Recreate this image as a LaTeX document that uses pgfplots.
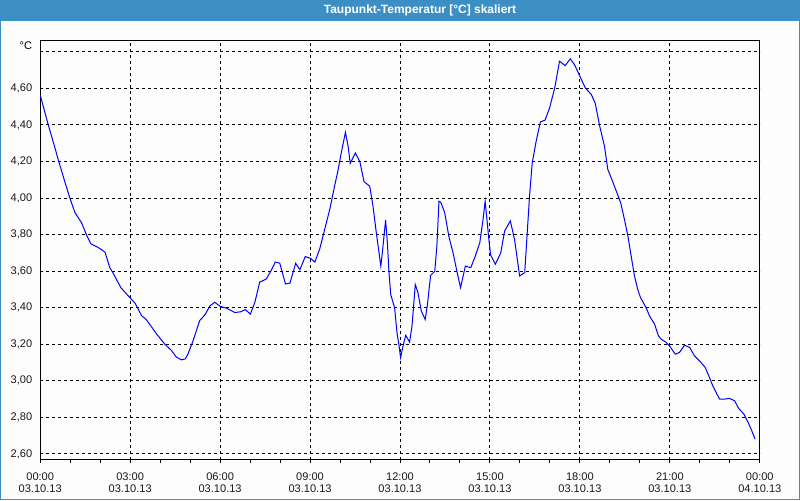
\documentclass[border=0pt]{standalone}
\usepackage{pgfplots}
\pgfplotsset{compat=1.18}
\usepackage{fontspec}
\setmainfont{Liberation Sans}
\definecolor{titleblue}{RGB}{60,143,196}
\definecolor{bg}{RGB}{252,253,252}
\pgfplotstableread{
h v
0.00 4.564
0.27 4.40
0.43 4.31
0.62 4.20
0.82 4.09
0.99 4.00
1.16 3.92
1.38 3.865
1.54 3.80
1.69 3.75
1.93 3.73
2.16 3.705
2.32 3.62
2.43 3.59
2.69 3.51
2.93 3.466
3.16 3.426
3.38 3.357
3.54 3.335
3.88 3.257
4.16 3.20
4.38 3.166
4.54 3.13
4.71 3.115
4.84 3.12
4.93 3.147
5.10 3.22
5.32 3.33
5.49 3.36
5.66 3.41
5.82 3.43
6.01 3.407
6.21 3.398
6.49 3.374
6.69 3.378
6.84 3.39
7.01 3.365
7.16 3.43
7.32 3.54
7.54 3.557
7.69 3.60
7.84 3.65
7.99 3.644
8.18 3.53
8.33 3.535
8.52 3.643
8.66 3.608
8.84 3.68
9.02 3.67
9.16 3.65
9.32 3.72
9.49 3.83
9.66 3.94
9.82 4.067
9.93 4.15
10.04 4.247
10.18 4.36
10.27 4.283
10.34 4.19
10.51 4.247
10.66 4.20
10.80 4.09
10.99 4.065
11.10 3.955
11.21 3.81
11.36 3.628
11.41 3.70
11.52 3.88
11.58 3.755
11.63 3.60
11.69 3.473
11.82 3.40
11.90 3.263
11.97 3.19
12.02 3.127
12.10 3.19
12.19 3.249
12.32 3.212
12.40 3.30
12.51 3.527
12.60 3.482
12.71 3.382
12.84 3.336
12.91 3.409
13.02 3.577
13.16 3.60
13.23 3.737
13.30 3.983
13.36 3.977
13.49 3.92
13.63 3.79
13.77 3.70
13.91 3.59
14.02 3.51
14.18 3.628
14.36 3.619
14.51 3.682
14.66 3.755
14.77 3.883
14.84 3.983
14.90 3.883
14.96 3.78
15.02 3.69
15.18 3.638
15.36 3.70
15.49 3.82
15.68 3.875
15.82 3.774
15.99 3.574
16.16 3.592
16.24 3.80
16.32 4.01
16.41 4.193
16.54 4.31
16.68 4.416
16.84 4.427
16.99 4.494
17.16 4.603
17.32 4.749
17.51 4.725
17.68 4.762
17.82 4.73
17.99 4.67
18.18 4.603
18.38 4.567
18.51 4.52
18.66 4.394
18.82 4.284
18.93 4.157
19.07 4.10
19.21 4.04
19.36 3.975
19.49 3.88
19.60 3.793
19.71 3.683
19.82 3.574
19.93 3.50
20.02 3.456
20.21 3.40
20.32 3.356
20.49 3.31
20.62 3.246
20.71 3.228
20.88 3.21
21.01 3.186
21.18 3.146
21.32 3.155
21.49 3.195
21.66 3.183
21.82 3.137
22.02 3.104
22.18 3.073
22.32 3.019
22.43 2.973
22.54 2.937
22.66 2.90
22.82 2.90
22.99 2.904
23.16 2.891
23.29 2.85
23.47 2.818
23.60 2.776
23.71 2.736
23.84 2.682
}\dewdata
\begin{document}
\begin{tikzpicture}[x=0.75pt,y=0.75pt]
\fill[bg] (0,0) rectangle (800,500);
\fill[titleblue] (0,479) rectangle (800,500);
\draw[titleblue, line width=1.1pt] (0.5,0.5) rectangle (799.5,499.5);
\node[text=white, font=\bfseries\fontsize{9}{10.8}\selectfont] at (420,489.5) {Taupunkt-Temperatur [°C] skaliert};
\begin{axis}[
  at={(30pt,30pt)}, anchor=south west,
  scale only axis, width=540pt, height=315pt,
  xmin=0, xmax=24, ymin=2.567, ymax=4.864,
  axis line style={black, line width=0.75pt},
  xtick={0,3,6,9,12,15,18,21,24},
  xticklabels={{00:00\\03.10.13},{03:00\\03.10.13},{06:00\\03.10.13},{09:00\\03.10.13},{12:00\\03.10.13},{15:00\\03.10.13},{18:00\\03.10.13},{21:00\\03.10.13},{00:00\\04.10.13}},
  minor x tick num=2,
  xtick pos=left,
  tick align=outside,
  major tick length=2.5pt, minor tick length=2.5pt,
  tick style={black, line width=0.75pt},
  ytick={2.6,2.8,3.0,3.2,3.4,3.6,3.8,4.0,4.2,4.4,4.6,4.8},
  yticklabels={{2,60},{2,80},{3,00},{3,20},{3,40},{3,60},{3,80},{4,00},{4,20},{4,40},{4,60},{}},
  ytick style={draw=none},
  grid=major,
  major grid style={black, dash pattern=on 2.25pt off 2.25pt, line width=0.75pt},
  tick label style={font=\fontsize{8.3}{9}\selectfont, text=black!90},
  xticklabel style={align=center, yshift=-3.5pt},
]
\addplot[blue, line width=0.75pt] table[x=h, y=v] {\dewdata};
\end{axis}
\node[anchor=east, font=\fontsize{8.3}{9.6}\selectfont] at (36.5,454.5) {°C};
\end{tikzpicture}
\end{document}
